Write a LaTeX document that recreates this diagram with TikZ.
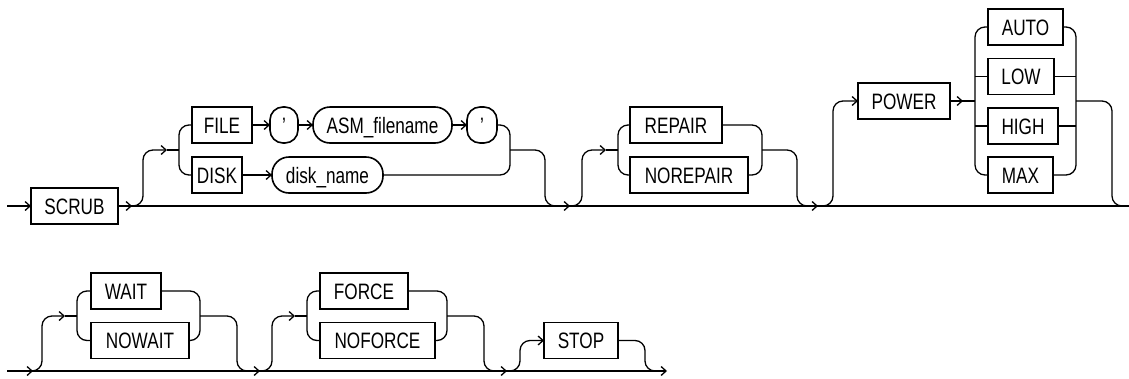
\documentclass[tikz,border=0pt]{standalone}
\usepackage{fontspec}
\setmainfont{Liberation Sans}[FakeStretch=0.77]
\usepackage{tikz}
\usetikzlibrary{
  arrows.meta,
  calc
}
\tikzset{
  conn/.style={line width=1.3pt},
  arr/.style={-{Straight Barb[length=5pt,width=9pt]}},
  kw/.style={draw,line width=1.8pt,rectangle,anchor=west,minimum height=36pt,
    inner sep=0pt,outer sep=0pt,text height=16pt,text depth=0pt,
    font=\fontsize{22.3pt}{26pt}\selectfont},
  var/.style={kw,line width=1.6pt,rounded corners=17pt},
  qt/.style={kw,line width=1.6pt,rounded corners=13pt}
}
\newcommand{\kwbox}[5]{%
  \node[kw,minimum width=#4pt] (#1) at (#2,#3) {#5};%
}

\begin{document}
\begin{tikzpicture}[x=1pt,y=-1pt]
  \useasboundingbox (0,0) rectangle (1129,378);
  \coordinate (in1) at (7,206);
  \coordinate (out1) at (1129,206);
  \coordinate (fs) at (179,150);
  \coordinate (fj) at (510,150);
  \coordinate (rs) at (618,150);
  \coordinate (rj) at (762,150);
  \coordinate (ps) at (975,101);
  \coordinate (pj) at (1076,101);

  \kwbox{scrub}{31}{206}{87}{SCRUB}
  \kwbox{file}{192}{125}{60}{FILE}
  \node[qt,minimum width=28pt] (qa) at (270,125) {'};
  \node[var,minimum width=139pt] (asm) at (313,125) {ASM\_filename};
  \node[qt,minimum width=30pt] (qb) at (467,125) {'};
  \kwbox{disk}{192}{175}{50}{DISK}
  \node[var,minimum width=111pt] (dname) at (272,175) {disk\_name};
  \kwbox{repair}{630}{125}{92}{REPAIR}
  \kwbox{norepair}{630}{175}{118}{NOREPAIR}
  \kwbox{power}{858}{101}{92}{POWER}
  \kwbox{auto}{988}{27}{75}{AUTO}
  \kwbox{low}{988}{76.5}{66}{LOW}
  \kwbox{high}{988}{126}{70}{HIGH}
  \kwbox{max}{988}{175}{65}{MAX}

  \draw[conn,arr] (in1) -- (scrub.west);
  \draw[conn] (scrub.east) -- (out1);
  \draw[conn,arr] (scrub.east) -- ++(14,0);
  \draw[conn,arr,rounded corners=10pt] (scrub.east) ++(10,0) -- ++(15,0) |- ($(fs)+(-12,0)$);
  \draw[conn] ($(fs)+(-12,0)$) -- (fs);
  \draw[conn,rounded corners=10pt] (file.west) -| (fs) |- (disk.west);
  \draw[conn,arr] (file) -- (qa);
  \draw[conn,arr] (qa) -- (asm);
  \draw[conn,arr] (asm) -- (qb);
  \draw[conn,arr] (disk) -- (dname);
  \draw[conn,rounded corners=10pt] (qb.east) -| (fj) |- (dname.east);
  \draw[conn,arr,rounded corners=10pt] (fj) -| ++(35,56) -- ++(25,0);

  \draw[conn,arr,rounded corners=10pt] ($(rs)+(-48,56)$) -- ++(12,0) |- ($(rs)+(-12,0)$);
  \draw[conn] ($(rs)+(-12,0)$) -- (rs);
  \draw[conn,rounded corners=10pt] (repair.west) -| (rs) |- (norepair.west);
  \draw[conn,rounded corners=10pt] (repair.east) -| (rj) |- (norepair.east);
  \draw[conn,arr,rounded corners=10pt] (rj) -| ++(35,56) -- ++(21,0);

  \draw[conn,arr,rounded corners=10pt] ($(rj)+(56,56)$) -- ++(15,0) |- (power.west);
  \draw[conn,arr] (power.east) -- ++(13,0);
  \draw[conn] (power.east) -- (ps);
  \draw[conn,rounded corners=10pt] (auto.west) -| (ps) |- (max.west);
  \draw[conn] (low.west) -- (low.west -| ps);
  \draw[conn] (high.west) -- (high.west -| ps);
  \draw[conn,rounded corners=10pt] (auto.east) -| (pj) |- (max.east);
  \draw[conn] (low.east) -- (low.east -| pj);
  \draw[conn] (high.east) -- (high.east -| pj);
  \draw[conn,rounded corners=10pt] (pj) -| ++(36,105) -- (out1);

  \coordinate (in2) at (7,371);
  \coordinate (out2) at (667,371);
  \coordinate (ws) at (77,316);
  \coordinate (wj) at (200,316);
  \coordinate (cs) at (307,316);
  \coordinate (cj) at (447,316);

  \kwbox{wait}{91}{291}{70}{WAIT}
  \kwbox{nowait}{91}{340.5}{98}{NOWAIT}
  \kwbox{force}{320}{291}{88}{FORCE}
  \kwbox{noforce}{320}{340.5}{115}{NOFORCE}
  \kwbox{stop}{544}{340.5}{74}{STOP}

  \draw[conn,arr] (in2) -- (out2);
  \draw[conn,arr] (in2) -- ++(26,0);
  \draw[conn,arr,rounded corners=10pt] ($(ws)+(-49,55)$) -- ++(14,0) |- ($(ws)+(-12,0)$);
  \draw[conn] ($(ws)+(-12,0)$) -- (ws);
  \draw[conn,rounded corners=10pt] (wait.west) -| (ws) |- (nowait.west);
  \draw[conn,rounded corners=10pt] (wait.east) -| (wj) |- (nowait.east);
  \draw[conn,arr,rounded corners=10pt] (wj) -| ++(37,55) -- ++(23,0);

  \draw[conn,arr,rounded corners=10pt] ($(cs)+(-49,55)$) -- ++(14,0) |- ($(cs)+(-12,0)$);
  \draw[conn] ($(cs)+(-12,0)$) -- (cs);
  \draw[conn,rounded corners=10pt] (force.west) -| (cs) |- (noforce.west);
  \draw[conn,rounded corners=10pt] (force.east) -| (cj) |- (noforce.east);
  \draw[conn,arr,rounded corners=10pt] (cj) -| ++(37,55) -- ++(23,0);

  \draw[conn,arr,rounded corners=10pt] ($(cj)+(58,55)$) -- ++(15,0) |- (stop.west);
  \draw[conn,rounded corners=10pt] (stop.east) -| ++(27,30.5) -- ++(15,0);
\end{tikzpicture}
\end{document}
